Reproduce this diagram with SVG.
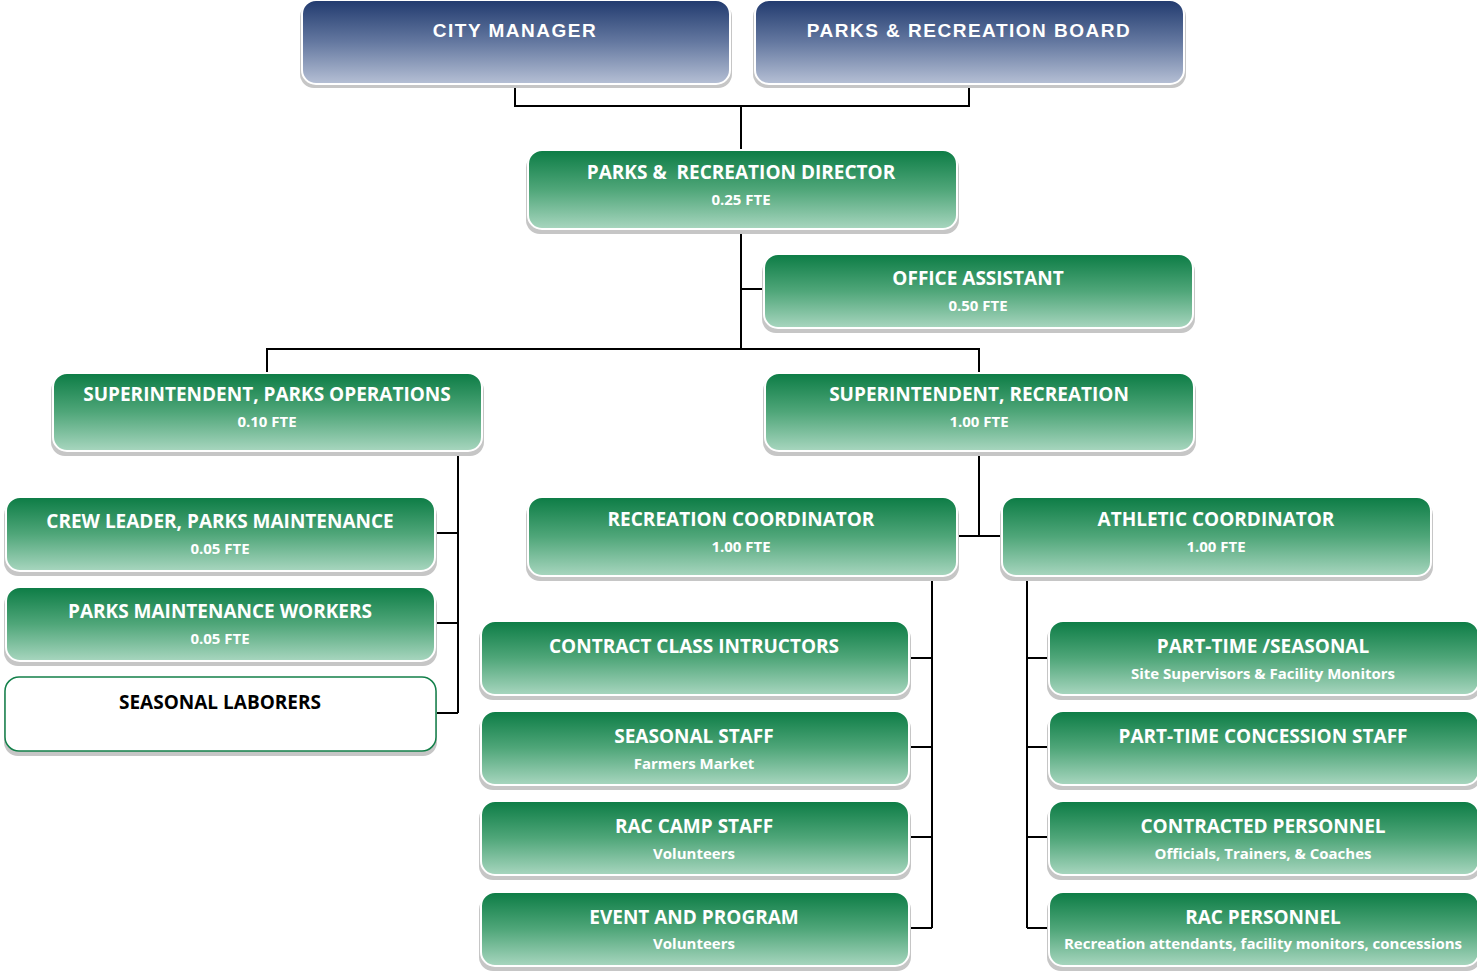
<svg xmlns="http://www.w3.org/2000/svg" width="1477" height="972" viewBox="0 0 1477 972">
<defs>
<linearGradient id="gG" x1="0" y1="0" x2="0" y2="1"><stop offset="0" stop-color="#0c7c45"/><stop offset="0.5" stop-color="#4fa679"/><stop offset="1" stop-color="#a8d6bf"/></linearGradient>
<linearGradient id="gB" x1="0" y1="0" x2="0" y2="1"><stop offset="0" stop-color="#213a6e"/><stop offset="0.5" stop-color="#6478a0"/><stop offset="1" stop-color="#b6c0d5"/></linearGradient>
<style>
.sh{fill:#c6c6c6}
.g{fill:url(#gG);stroke:#fff;stroke-width:2}
.b{fill:url(#gB);stroke:#fff;stroke-width:2}
.w{fill:#fff;stroke:#13804a;stroke-width:1.5}
.t{font-family:"Open Sans",sans-serif;font-weight:bold;font-size:19px;fill:#fff;text-anchor:middle}
.s{font-family:"Open Sans",sans-serif;font-weight:bold;font-size:15px;fill:#fff;text-anchor:middle}
.tb{font-family:"Liberation Sans",Arial,sans-serif;font-weight:bold;font-size:19px;fill:#fff;text-anchor:middle;letter-spacing:1.5px}
.c{fill:none;stroke:#000;stroke-width:2}
</style>
</defs>
<g id="connectors">
<path class="c" d="M515 85V106H969V85M741 106V150"/>
<path class="c" d="M741 229V349M741 289H764M267 373V349H979V373"/>
<path class="c" d="M458 453V713M435 533H458M435 623H458M435 713H458"/>
<path class="c" d="M979 453V536M957 536H1001"/>
<path class="c" d="M932 578V928M909 658H932M909 747H932M909 837H932M909 928H932"/>
<path class="c" d="M1027 578V928M1027 658H1049M1027 747H1049M1027 837H1049M1027 928H1049"/>
</g>
<g id="city-manager"><rect class="sh" x="300" y="3" width="432" height="85" rx="14"/><rect class="b" x="302" y="0" width="428" height="84" rx="14"/><text class="tb" x="515" y="37">CITY MANAGER</text></g>
<g id="board"><rect class="sh" x="753" y="3" width="433" height="85" rx="14"/><rect class="b" x="755" y="0" width="429" height="84" rx="14"/><text class="tb" x="969" y="37">PARKS &amp; RECREATION BOARD</text></g>
<g id="director"><rect class="sh" x="526" y="154" width="433" height="80" rx="14"/><rect class="g" x="528" y="150" width="429" height="79" rx="14"/><text class="t" x="741" y="179" xml:space="preserve">PARKS &amp;  RECREATION DIRECTOR</text><text class="s" x="741" y="205">0.25 FTE</text></g>
<g id="office-assistant"><rect class="sh" x="762" y="258" width="433" height="75" rx="14"/><rect class="g" x="764" y="254" width="429" height="74" rx="14"/><text class="t" x="978" y="285">OFFICE ASSISTANT</text><text class="s" x="978" y="311">0.50 FTE</text></g>
<g id="supt-parks"><rect class="sh" x="51" y="377" width="433" height="79" rx="14"/><rect class="g" x="53" y="373" width="429" height="78" rx="14"/><text class="t" x="267" y="401">SUPERINTENDENT, PARKS OPERATIONS</text><text class="s" x="267" y="427">0.10 FTE</text></g>
<g id="supt-rec"><rect class="sh" x="763" y="377" width="433" height="79" rx="14"/><rect class="g" x="765" y="373" width="429" height="78" rx="14"/><text class="t" x="979" y="401">SUPERINTENDENT, RECREATION</text><text class="s" x="979" y="427">1.00 FTE</text></g>
<g id="crew-leader"><rect class="sh" x="4" y="501" width="433" height="75" rx="14"/><rect class="g" x="6" y="497" width="429" height="74" rx="14"/><text class="t" x="220" y="528">CREW LEADER, PARKS MAINTENANCE</text><text class="s" x="220" y="554">0.05 FTE</text></g>
<g id="maint-workers"><rect class="sh" x="4" y="591" width="433" height="75" rx="14"/><rect class="g" x="6" y="587" width="429" height="74" rx="14"/><text class="t" x="220" y="618">PARKS MAINTENANCE WORKERS</text><text class="s" x="220" y="644">0.05 FTE</text></g>
<g id="seasonal-laborers"><rect class="sh" x="4" y="681" width="433" height="75" rx="14"/><rect class="w" x="5" y="677" width="431" height="74" rx="14"/><text class="t" x="220" y="709" style="fill:#000">SEASONAL LABORERS</text></g>
<g id="rec-coord"><rect class="sh" x="526" y="501" width="433" height="80" rx="14"/><rect class="g" x="528" y="497" width="429" height="79" rx="14"/><text class="t" x="741" y="526">RECREATION COORDINATOR</text><text class="s" x="741" y="552">1.00 FTE</text></g>
<g id="athletic-coord"><rect class="sh" x="1000" y="501" width="433" height="80" rx="14"/><rect class="g" x="1002" y="497" width="429" height="79" rx="14"/><text class="t" x="1216" y="526">ATHLETIC COORDINATOR</text><text class="s" x="1216" y="552">1.00 FTE</text></g>
<g id="contract-class"><rect class="sh" x="479" y="625" width="432" height="75" rx="14"/><rect class="g" x="481" y="621" width="428" height="74" rx="14"/><text class="t" x="694" y="653">CONTRACT CLASS INTRUCTORS</text></g>
<g id="seasonal-staff"><rect class="sh" x="479" y="715" width="432" height="75" rx="14"/><rect class="g" x="481" y="711" width="428" height="74" rx="14"/><text class="t" x="694" y="743">SEASONAL STAFF</text><text class="s" x="694" y="769">Farmers Market</text></g>
<g id="rac-camp"><rect class="sh" x="479" y="805" width="432" height="75" rx="14"/><rect class="g" x="481" y="801" width="428" height="74" rx="14"/><text class="t" x="694" y="833">RAC CAMP STAFF</text><text class="s" x="694" y="859">Volunteers</text></g>
<g id="event-program"><rect class="sh" x="479" y="896" width="432" height="75" rx="14"/><rect class="g" x="481" y="892" width="428" height="74" rx="14"/><text class="t" x="694" y="924">EVENT AND PROGRAM</text><text class="s" x="694" y="949">Volunteers</text></g>
<g id="part-time-seasonal"><rect class="sh" x="1047" y="625" width="434" height="75" rx="14"/><rect class="g" x="1049" y="621" width="430" height="74" rx="14"/><text class="t" x="1263" y="653">PART-TIME /SEASONAL</text><text class="s" x="1263" y="679">Site Supervisors &amp; Facility Monitors</text></g>
<g id="concession"><rect class="sh" x="1047" y="715" width="434" height="75" rx="14"/><rect class="g" x="1049" y="711" width="430" height="74" rx="14"/><text class="t" x="1263" y="743">PART-TIME CONCESSION STAFF</text></g>
<g id="contracted"><rect class="sh" x="1047" y="805" width="434" height="75" rx="14"/><rect class="g" x="1049" y="801" width="430" height="74" rx="14"/><text class="t" x="1263" y="833">CONTRACTED PERSONNEL</text><text class="s" x="1263" y="859">Officials, Trainers, &amp; Coaches</text></g>
<g id="rac-personnel"><rect class="sh" x="1047" y="896" width="434" height="75" rx="14"/><rect class="g" x="1049" y="892" width="430" height="74" rx="14"/><text class="t" x="1263" y="924">RAC PERSONNEL</text><text class="s" x="1263" y="949">Recreation attendants, facility monitors, concessions</text></g>
</svg>
